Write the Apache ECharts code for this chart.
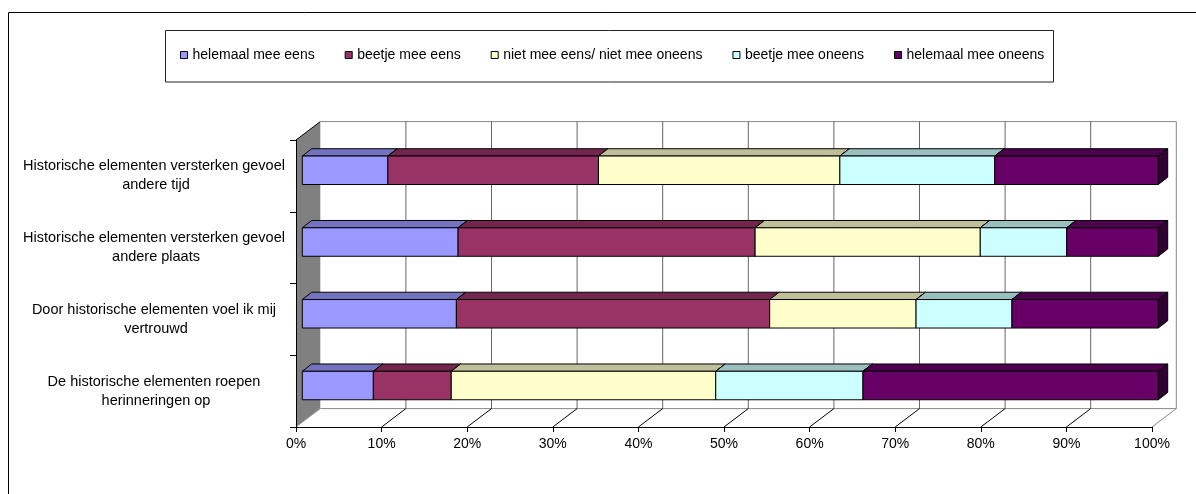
<!DOCTYPE html>
<html>
<head>
<meta charset="utf-8">
<script src="https://cdn.jsdelivr.net/npm/echarts@6/dist/echarts.min.js"></script>
<style>
  html, body { margin: 0; padding: 0; background: #fff; }
  #chart { width: 1196px; height: 494px; }
</style>
</head>
<body>
<div id="chart"></div>
<script>
// Statements, listed top to bottom
const statements = [
  'Historische elementen versterken gevoel andere tijd',
  'Historische elementen versterken gevoel andere plaats',
  'Door historische elementen voel ik mij vertrouwd',
  'De historische elementen roepen herinneringen op'
];

// Answer options (legend order)
const answers = [
  'helemaal mee eens',
  'beetje mee eens',
  'niet mee eens/ niet mee oneens',
  'beetje mee oneens',
  'helemaal mee oneens'
];

// Share of respondents per answer, per statement (%)
const helemaalMeeEens   = [10.0, 18.2, 18.0,  8.3];
const beetjeMeeEens     = [24.6, 34.7, 36.6,  9.1];
const neutraal          = [28.2, 26.3, 17.1, 30.9];
const beetjeMeeOneens   = [18.1, 10.1, 11.2, 17.2];
const helemaalMeeOneens = [19.1, 10.7, 17.1, 34.5];

// Value axis ticks (%)
const percentTicks = [0, 10, 20, 30, 40, 50, 60, 70, 80, 90, 100];

const answerSeries = [helemaalMeeEens, beetjeMeeEens, neutraal, beetjeMeeOneens, helemaalMeeOneens];

// front / top / side shades of each answer colour
const faceColors = [
  ['#9999FF', '#7373BF', '#4D4D80'],
  ['#993366', '#73264D', '#4D1A33'],
  ['#FFFFCC', '#BFBF99', '#808066'],
  ['#CCFFFF', '#99BFBF', '#668080'],
  ['#660066', '#4D004D', '#330033']
];

const FONT = '"Liberation Sans", Arial, sans-serif';

// depth of the plot box (back wall offset) and of the bars
const WALL_DX = 24.3, WALL_DY = -18.4;
const BAR_DX = 6.3, BAR_DY = -5.6;
const BAR_DEPTH_DX = 9.4, BAR_DEPTH_DY = -7.3;
const BAR_RATIO = 0.397;

// stacked 100% segments: [start, end, rowIndex]
function segmentsFor(k) {
  return statements.map((_, row) => {
    const total = answerSeries.reduce((s, arr) => s + arr[row], 0);
    let start = 0;
    for (let j = 0; j < k; j++) start += answerSeries[j][row];
    const end = start + answerSeries[k][row];
    return [start / total * 100, end / total * 100, row];
  });
}

function barRenderer(colors) {
  return function (params, api) {
    const row = api.value(2);
    const a = api.coord([api.value(0), row]);
    const b = api.coord([api.value(1), row]);
    const band = api.size([0, 1])[1];
    const h = band * BAR_RATIO;
    const x0 = a[0] + BAR_DX, x1 = b[0] + BAR_DX;
    const yT = a[1] + BAR_DY - h / 2, yB = yT + h;
    const dx = BAR_DEPTH_DX, dy = BAR_DEPTH_DY;
    const edge = { stroke: '#000', lineWidth: 1 };
    return {
      type: 'group',
      children: [
        { type: 'polygon', shape: { points: [[x0, yT], [x1, yT], [x1 + dx, yT + dy], [x0 + dx, yT + dy]] },
          style: Object.assign({ fill: colors[1] }, edge) },
        { type: 'polygon', shape: { points: [[x1, yT], [x1 + dx, yT + dy], [x1 + dx, yB + dy], [x1, yB]] },
          style: Object.assign({ fill: colors[2] }, edge) },
        { type: 'rect', shape: { x: x0, y: yT, width: x1 - x0, height: h },
          style: Object.assign({ fill: colors[0] }, edge) }
      ]
    };
  };
}

// walls, floor and back-wall gridlines of the 3D plot box
function frameRenderer(params, api) {
  const cs = params.coordSys;
  const top = cs.y, bottom = cs.y + cs.height;
  const children = [];
  const left = api.coord([percentTicks[0], 0])[0];
  const right = api.coord([percentTicks[percentTicks.length - 1], 0])[0];
  // left side wall
  children.push({ type: 'polygon', shape: { points: [[left, top], [left + WALL_DX, top + WALL_DY], [left + WALL_DX, bottom + WALL_DY], [left, bottom]] },
    style: { fill: '#808080', stroke: null } });
  children.push({ type: 'line', shape: { x1: left, y1: top, x2: left + WALL_DX, y2: top + WALL_DY }, style: { stroke: '#000', lineWidth: 1 } });
  // back wall edges
  children.push({ type: 'line', shape: { x1: left + WALL_DX, y1: top + WALL_DY, x2: right + WALL_DX, y2: top + WALL_DY }, style: { stroke: '#888', lineWidth: 1 } });
  children.push({ type: 'line', shape: { x1: left + WALL_DX, y1: bottom + WALL_DY, x2: right + WALL_DX, y2: bottom + WALL_DY }, style: { stroke: '#888', lineWidth: 1 } });
  percentTicks.forEach((t, i) => {
    const x = api.coord([t, 0])[0];
    const last = i === percentTicks.length - 1;
    if (i > 0) {
      children.push({ type: 'line', shape: { x1: x + WALL_DX, y1: top + WALL_DY, x2: x + WALL_DX, y2: bottom + WALL_DY },
        style: { stroke: last ? '#888' : '#666', lineWidth: 1 } });
    }
    children.push({ type: 'line', shape: { x1: x, y1: bottom, x2: x + WALL_DX, y2: bottom + WALL_DY },
      style: { stroke: last ? '#888' : (i === 0 ? '#999' : '#000'), lineWidth: 1 } });
  });
  return { type: 'group', children: children };
}

const series = [{
  type: 'custom',
  name: 'frame',
  silent: true,
  z: -1,
  data: [[0]],
  renderItem: frameRenderer
}];

answers.forEach((name, k) => {
  series.push({
    type: 'custom',
    name: name,
    itemStyle: { color: faceColors[k][0], borderColor: '#000', borderWidth: 1 },
    data: segmentsFor(k),
    encode: { x: [0, 1], y: 2 },
    renderItem: barRenderer(faceColors[k])
  });
});

const chart = echarts.init(document.getElementById('chart'), null, { renderer: 'canvas' });
chart.setOption({
  animation: false,
  backgroundColor: '#fff',
  textStyle: { fontFamily: FONT },
  graphic: [
    { type: 'rect', shape: { x: 8.5, y: 12.5, width: 1200, height: 500 }, style: { fill: null, stroke: '#000', lineWidth: 1 }, z: -10 },
    { type: 'rect', shape: { x: 165.5, y: 30.5, width: 888, height: 51.5 }, style: { fill: '#fff', stroke: '#222', lineWidth: 1 }, z: -5 }
  ],
  legend: {
    data: answers,
    left: 180,
    top: 47,
    padding: 0,
    itemGap: 30,
    itemWidth: 7,
    itemHeight: 7,
    icon: 'rect',
    itemStyle: { borderColor: '#000', borderWidth: 1 },
    textStyle: { fontFamily: FONT, fontSize: 14, color: '#000', lineHeight: 16 },
    selectedMode: false
  },
  grid: { left: 296, right: 44, top: 140, bottom: 67, containLabel: false },
  xAxis: {
    type: 'value',
    min: 0,
    max: 100,
    interval: 10,
    axisLine: { show: true, lineStyle: { color: '#000', width: 1 } },
    axisTick: { show: true, length: 5, lineStyle: { color: '#000' } },
    splitLine: { show: false },
    axisLabel: { formatter: '{value}%', fontFamily: FONT, fontSize: 14, color: '#000', margin: 10 }
  },
  yAxis: {
    type: 'category',
    inverse: true,
    data: statements,
    axisLine: { show: true, lineStyle: { color: '#000', width: 1 } },
    axisTick: { show: true, length: 6, lineStyle: { color: '#000' } },
    splitLine: { show: false },
    axisLabel: {
      fontFamily: FONT, fontSize: 14.5, color: '#000',
      align: 'center', margin: 140, width: 276, overflow: 'break', lineHeight: 19
    }
  },
  series: series
});
</script>
</body>
</html>
